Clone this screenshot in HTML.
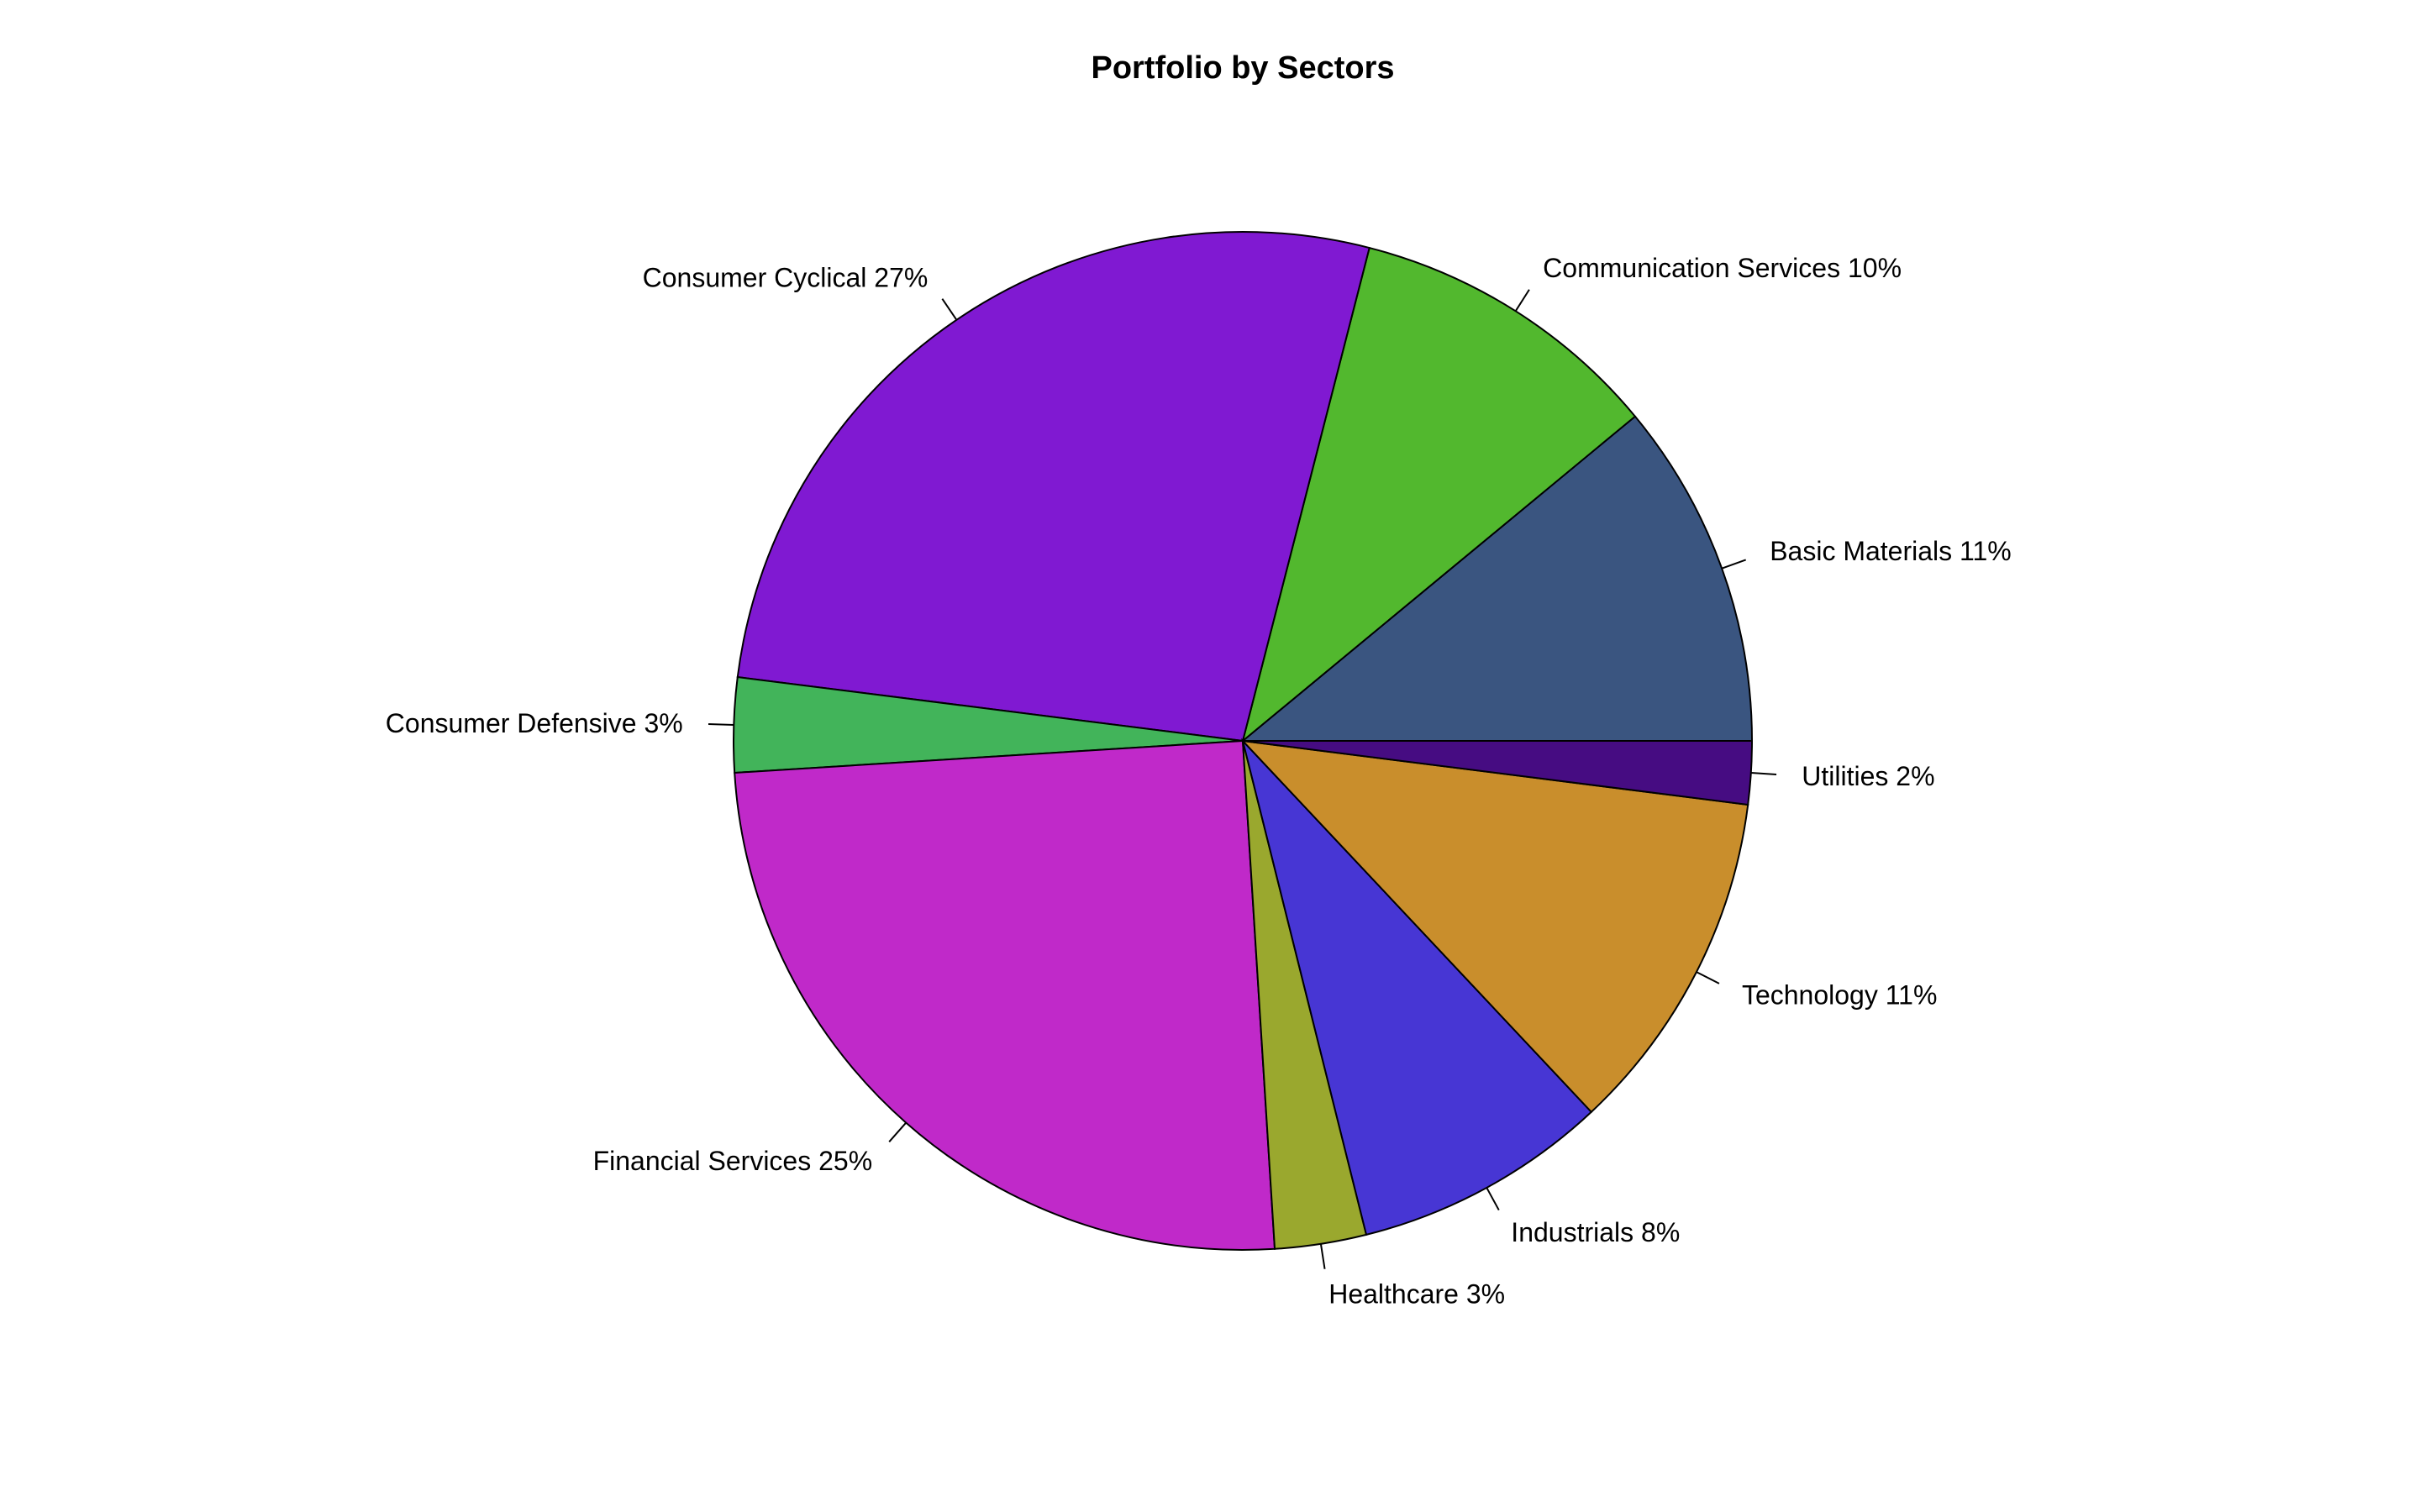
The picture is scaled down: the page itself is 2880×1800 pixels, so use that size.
<!DOCTYPE html>
<html><head><meta charset="utf-8"><style>
html,body{margin:0;padding:0;background:#fff;}
svg{display:block;font-family:"Liberation Sans",Arial,sans-serif;}
</style></head><body>
<svg id="chart" width="2880" height="1800" viewBox="0 0 2880 1800">
<text x="1479" y="93" text-anchor="middle" font-size="38" font-weight="bold">Portfolio by Sectors</text>
<g id="slices"></g><g id="labels"></g>
</svg>
<script>
const categories = ["Basic Materials","Communication Services","Consumer Cyclical","Consumer Defensive","Financial Services","Healthcare","Industrials","Technology","Utilities"];
const values = [11.0, 10.0, 27.0, 3.0, 25.0, 2.9, 8.1, 11.0, 2.0];
const printedPercents = ["11%","10%","27%","3%","25%","3%","8%","11%","2%"];
const colors = ["#3A5580","#52B82E","#8019D2","#42B45A","#C029C9","#9AA82E","#4736D4","#C98E2C","#460C82"];
const cx=1479, cy=882, r=606;
const NS="http://www.w3.org/2000/svg";
const total=values.reduce((a,b)=>a+b,0);
const sg=document.getElementById('slices'), lg=document.getElementById('labels');
function pt(a,rr){return [cx+rr*Math.cos(a), cy-rr*Math.sin(a)];}
let cum=0;
values.forEach((v,i)=>{
  const a0=cum/total*2*Math.PI; cum+=v; const a1=cum/total*2*Math.PI;
  const p0=pt(a0,r), p1=pt(a1,r);
  const large=(a1-a0)>Math.PI?1:0;
  const path=document.createElementNS(NS,'path');
  path.setAttribute('d',`M${cx},${cy} L${p0[0]},${p0[1]} A${r},${r} 0 ${large} 0 ${p1[0]},${p1[1]} Z`);
  path.setAttribute('fill',colors[i]); path.setAttribute('stroke','#000'); path.setAttribute('stroke-width','2');
  
  
  sg.appendChild(path);
  const am=(a0+a1)/2;
  const t0=pt(am,r), t1=pt(am,r*1.05), tl=pt(am,r*1.1);
  const ln=document.createElementNS(NS,'line');
  ln.setAttribute('x1',t0[0]);ln.setAttribute('y1',t0[1]);ln.setAttribute('x2',t1[0]);ln.setAttribute('y2',t1[1]);
  ln.setAttribute('stroke','#000');ln.setAttribute('stroke-width','2');
  
  
  lg.appendChild(ln);
  const tx=document.createElementNS(NS,'text');
  tx.setAttribute('x',tl[0]);tx.setAttribute('y',tl[1]+11);
  tx.setAttribute('font-size','32');
  tx.setAttribute('text-anchor',Math.cos(am)>=0?'start':'end');
  tx.textContent=categories[i]+' '+printedPercents[i];
  
  
  lg.appendChild(tx);
});
</script>
</body></html>
